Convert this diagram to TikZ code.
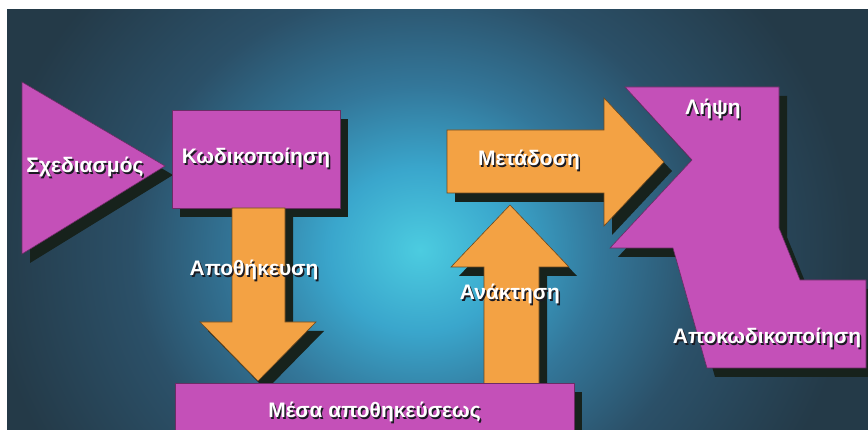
\documentclass[tikz,border=0pt]{standalone}
\usepackage{fontspec}
\setmainfont{Liberation Sans}
\usetikzlibrary{shadows}

% palette
\definecolor{bgdark}{HTML}{243A48}
\definecolor{glowA}{HTML}{4CCCE0}
\definecolor{glowB}{HTML}{3AA6CC}
\definecolor{glowC}{HTML}{33779A}
\definecolor{glowD}{HTML}{2B5068}
\definecolor{magentaf}{HTML}{C450B8}
\definecolor{orangef}{HTML}{F3A244}
\definecolor{shadowc}{HTML}{17221C}
\definecolor{txtshadow}{HTML}{1A1A22}

% soft light spot behind the diagram
\pgfdeclareradialshading{glow}{\pgfpoint{0bp}{0bp}}{%
  color(0bp)=(glowA); color(2.5bp)=(glowB); color(5bp)=(glowC);
  color(8bp)=(glowD); color(12bp)=(bgdark); color(50bp)=(bgdark)}

% white lettering with a small dark drop shadow
\newcommand\lbl[1]{{\rlap{\kern1.5pt\raisebox{-1.5pt}{\color{txtshadow}#1}}\color{white}#1}}

\tikzset{
  blockshadow/.style={drop shadow={shadow xshift=8pt,shadow yshift=-9pt,opacity=1,fill=shadowc}},
  pinkblock/.style={fill=magentaf, draw=magentaf!55!black, line width=0.6pt, blockshadow},
  orangeblock/.style={fill=orangef, draw=orangef!45!black, line width=0.6pt, blockshadow},
  lettering/.style={font=\fontsize{21}{25}\selectfont\bfseries, inner sep=0pt, text=white},
}

\begin{document}
\begin{tikzpicture}[x=1pt,y=-1pt]
\useasboundingbox (0,0) rectangle (868,430);

% paper margin and dark backdrop with the light spot
\fill[white] (0,0) rectangle (868,430);
\begin{scope}
  \clip (7,10) rectangle (868,430);
  \fill[bgdark] (7,10) rectangle (868,430);
  \shade[shading=glow] (420,250) ellipse (900 and 820);
\end{scope}

% design triangle
\path[pinkblock] (22,82) -- (165,166) -- (22,254) -- cycle;
\node[lettering] (design) at (85,168) {\lbl{Σχεδιασμός}};

% coding box
\node[pinkblock, minimum width=168, minimum height=98, inner sep=0pt,
      lettering] (coding) at (256,159) {\lbl{Κωδικοποίηση}};

% storing arrow (down)
\path[orangeblock] (232,208) -- (285,208) -- (285,322) -- (316,322)
  -- (258,381) -- (200,322) -- (232,322) -- cycle;
\node[lettering] (storing) at (254,271) {\lbl{Αποθήκευση}};

% retrieval arrow (up)
\path[orangeblock] (484,398) -- (484,267) -- (451,267) -- (510,205)
  -- (569,267) -- (539,267) -- (539,398) -- cycle;
\node[lettering] (retrieval) at (510,295) {\lbl{Ανάκτηση}};

% storage media box
\node[pinkblock, minimum width=399, minimum height=60, inner sep=0pt,
      lettering] (media) at (374.5,413) {\lbl{Μέσα αποθηκεύσεως}};

% transmission arrow (right)
\path[orangeblock] (447,130) -- (604,130) -- (604,98) -- (664,162)
  -- (604,226) -- (604,193) -- (447,193) -- cycle;
\node[lettering] (transmit) at (529,161) {\lbl{Μετάδοση}};

% reception / decoding block
\path[pinkblock] (625,87) -- (779,87) -- (779,228) -- (800,280) -- (866,280)
  -- (866,368) -- (707,368) -- (673,248) -- (610,248) -- (692,160) -- cycle;
\node[lettering] (receive) at (713,110) {\lbl{Λήψη}};
\node[lettering] (decode) at (767,339) {\lbl{Αποκωδικοποίηση}};
\end{tikzpicture}
\end{document}
